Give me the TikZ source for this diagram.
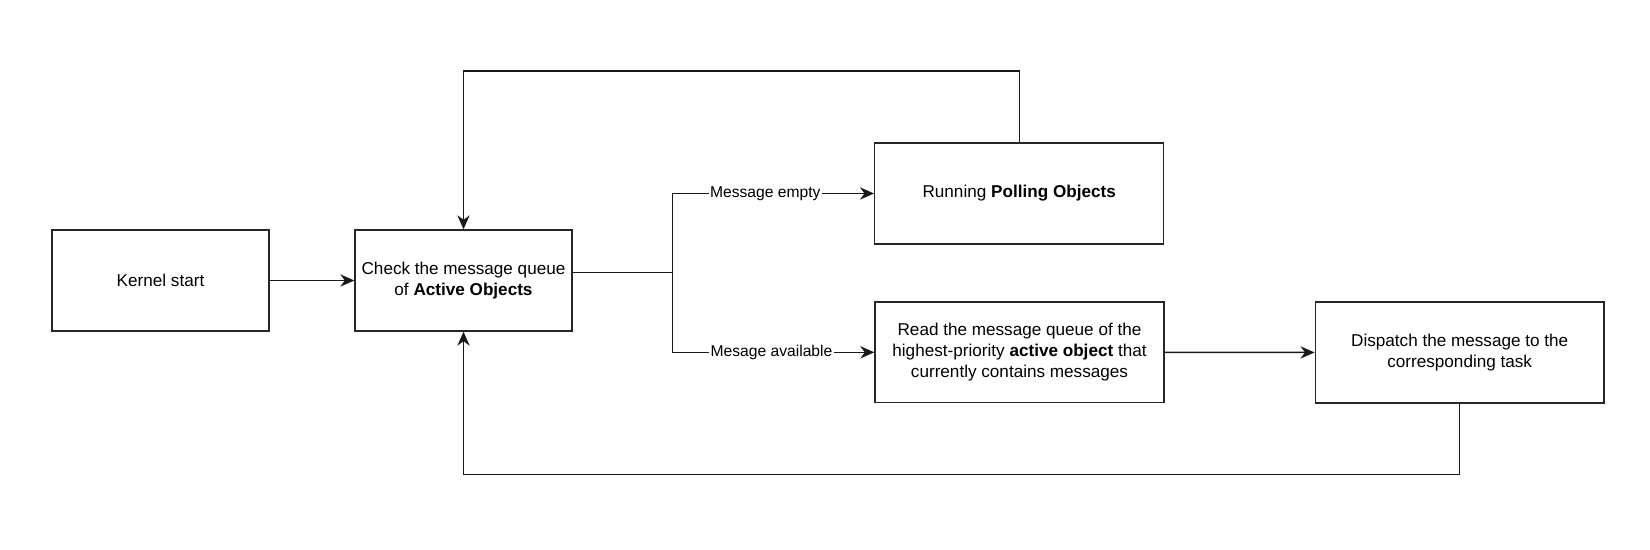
\documentclass[tikz,border=0pt]{standalone}
\usepackage{fontspec}
\setmainfont{Liberation Sans}
\usetikzlibrary{arrows.meta,calc}

\begin{document}
\begin{tikzpicture}[
  x=0.02cm, y=-0.02cm,
  box/.style={draw=black!85, line width=0.8pt, align=center,
    minimum height=2.02cm, inner sep=0pt,
    font=\fontsize{9.75}{11.8}\selectfont},
  flow/.style={draw=black!90, line width=0.8pt,
    -{Stealth[length=8pt,width=7pt,inset=2.6pt]}},
  wire/.style={draw=black!90, line width=0.8pt},
  lbl/.style={fill=white, inner sep=0.8pt,
    font=\fontsize{8.9}{10.7}\selectfont},
]
\useasboundingbox (0,0) rectangle (1650,550);

%--- boxes ---------------------------------------------------------------
\node[box, minimum width=4.34cm] (kern) at (160.5,280.5) {Kernel start};
\node[box, minimum width=4.34cm] (chk) at (463.5,280.5)
  {Check the message queue\\of \textbf{Active Objects}};
\node[box, minimum width=5.78cm] (poll) at (1019.2,193.5)
  {Running \textbf{Polling Objects}};
\node[box, minimum width=5.78cm] (rd) at (1019.5,352.3)
  {Read the message queue of the\\highest-priority \textbf{active object} that\\currently contains messages};
\node[box, minimum width=5.78cm] (disp) at (1459.7,352.5)
  {Dispatch the message to the\\corresponding task};

%--- straight arrows -----------------------------------------------------
\draw[flow] (kern) -- (chk);
\draw[flow] (rd) -- (disp);

%--- split after the check -----------------------------------------------
\coordinate (split) at (672.7,272.7);
\draw[wire] (chk.east |- split) -- (split);
\draw[flow] (split) |- node[lbl, pos=0.73] {Message empty} (poll.west);
\draw[flow] (split) |- node[lbl, pos=0.745] {Mesage available} (rd.west);

%--- loops back to the check ---------------------------------------------
\draw[flow] (poll.north) -- (poll.north |- 0,71) -| (chk.north);
\draw[flow] (disp.south) -- (disp.south |- 0,474.3) -| (chk.south);

\end{tikzpicture}
\end{document}
